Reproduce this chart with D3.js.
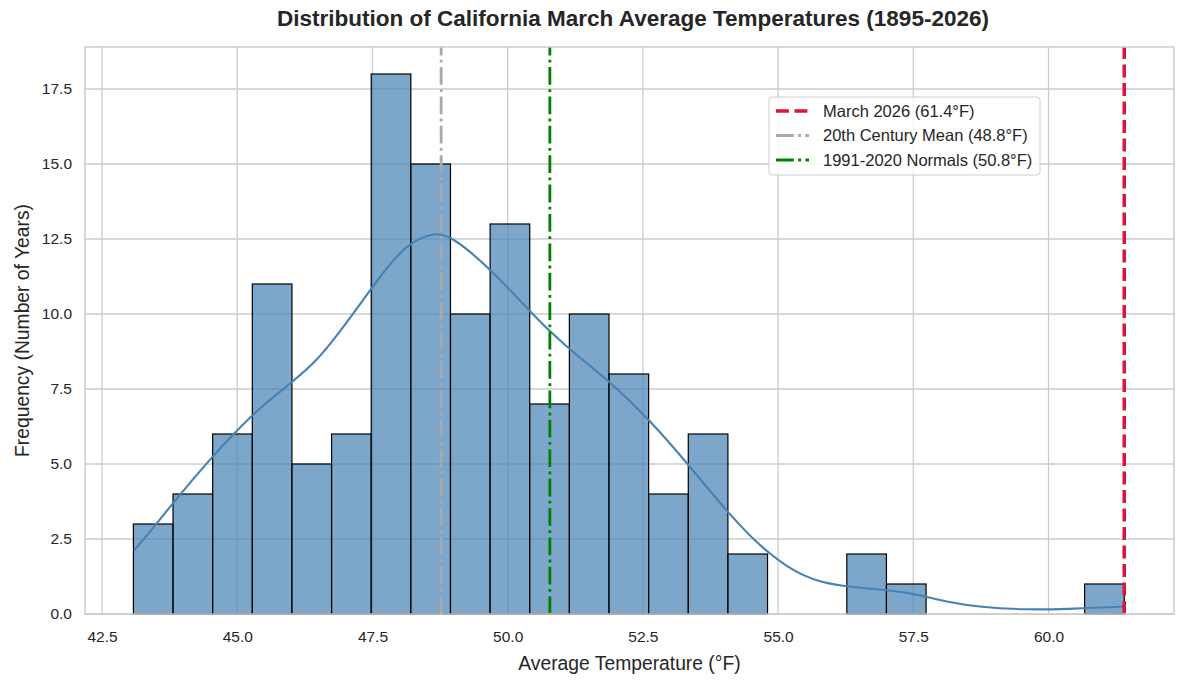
<!DOCTYPE html>
<html>
<head>
<meta charset="utf-8">
<script src="https://cdn.jsdelivr.net/npm/d3@7"></script>
<style>
  body { margin: 0; background: #fff; }
  svg { font-family: "Liberation Sans", Arial, sans-serif; }
</style>
</head>
<body>
<div></div>
<script>
var width = 1184;
var height = 684;

// histogram: 25 equal bins between the coldest and warmest March
var binRange = [43.08, 61.4];
var binCounts = [3, 4, 6, 11, 5, 6, 18, 15, 10, 13, 7, 10, 8, 4, 6, 2, 0, 0, 2, 1, 0, 0, 0, 0, 1];

// kde curve (scaled to counts)
var kdeX = [43.09, 43.50, 43.83, 44.57, 44.92, 45.41, 46.03, 46.46, 46.83, 47.20, 47.49, 47.88,
  48.23, 48.65, 48.96, 49.67, 50.41, 50.78, 51.15, 51.89, 52.62, 53.37, 53.93, 54.30, 54.54,
  54.85, 55.16, 55.47, 55.78, 56.27, 57.01, 57.50, 58.12, 58.73, 59.60, 60.28, 61.40];
var kdeY = [2.12, 2.98, 3.75, 5.31, 5.98, 6.87, 7.75, 8.42, 9.25, 10.15, 10.88, 11.81,
  12.42, 12.72, 12.60, 11.53, 10.09, 9.42, 8.81, 7.75, 6.48, 4.92, 3.68, 2.95, 2.50,
  2.00, 1.59, 1.28, 1.07, 0.91, 0.80, 0.68, 0.40, 0.23, 0.14, 0.16, 0.25];

var refLabels = ["March 2026", "20th Century Mean", "1991-2020 Normals"];
var refValues = [61.4, 48.77, 50.78];

var xTicks = [42.5, 45.0, 47.5, 50.0, 52.5, 55.0, 57.5, 60.0];
var yTicks = [0, 2.5, 5, 7.5, 10, 12.5, 15, 17.5];

var margin = {top: 47, right: 10, bottom: 70, left: 85};

var refStyles = [
  {color: "#dc143c", width: 3.5, dash: "12.9,5.6"},
  {color: "#a9a9a9", width: 2.8, dash: "17.8,4.4,2.8,4.4"},
  {color: "#008000", width: 2.8, dash: "17.8,4.4,2.8,4.4"}
];

var x = d3.scaleLinear()
  .domain([42.185, 62.32])
  .range([margin.left, width - margin.right]);

var y = d3.scaleLinear()
  .domain([0, 18.9])
  .range([height - margin.bottom, margin.top]);

var svg = d3.select("div").append("svg")
  .attr("width", width)
  .attr("height", height);

var binW = (binRange[1] - binRange[0]) / binCounts.length;
var bins = binCounts.map(function(c, i) {
  return {x0: binRange[0] + i * binW, x1: binRange[0] + (i + 1) * binW, count: c};
});

// grid
svg.append("g")
  .selectAll("line")
  .data(xTicks)
  .enter().append("line")
  .attr("x1", function(d) { return x(d); })
  .attr("x2", function(d) { return x(d); })
  .attr("y1", y.range()[0])
  .attr("y2", y.range()[1])
  .attr("stroke", "#cccccc")
  .attr("stroke-width", 1.3);

svg.append("g")
  .selectAll("line")
  .data(yTicks)
  .enter().append("line")
  .attr("x1", x.range()[0])
  .attr("x2", x.range()[1])
  .attr("y1", function(d) { return y(d); })
  .attr("y2", function(d) { return y(d); })
  .attr("stroke", "#cccccc")
  .attr("stroke-width", 1.3);

// bars
svg.append("g")
  .selectAll("rect")
  .data(bins.filter(function(d) { return d.count > 0; }))
  .enter().append("rect")
  .attr("x", function(d) { return x(d.x0); })
  .attr("width", function(d) { return x(d.x1) - x(d.x0); })
  .attr("y", function(d) { return y(d.count); })
  .attr("height", function(d) { return y(0) - y(d.count); })
  .attr("fill", "steelblue")
  .attr("fill-opacity", 0.7)
  .attr("stroke", "#000")
  .attr("stroke-width", 1.2);

// kde
var line = d3.line()
  .x(function(d) { return x(d[0]); })
  .y(function(d) { return y(d[1]); })
  .curve(d3.curveBasis);

svg.append("path")
  .datum(d3.zip(kdeX, kdeY))
  .attr("d", line)
  .attr("fill", "none")
  .attr("stroke", "steelblue")
  .attr("stroke-width", 2.1);

// reference lines
svg.append("g")
  .selectAll("line")
  .data(refValues)
  .enter().append("line")
  .attr("x1", function(d) { return x(d); })
  .attr("x2", function(d) { return x(d); })
  .attr("y1", y.range()[0])
  .attr("y2", y.range()[1])
  .attr("stroke", function(d, i) { return refStyles[i].color; })
  .attr("stroke-width", function(d, i) { return refStyles[i].width; })
  .attr("stroke-dasharray", function(d, i) { return refStyles[i].dash; });

// spines
svg.append("rect")
  .attr("x", x.range()[0])
  .attr("y", y.range()[1])
  .attr("width", x.range()[1] - x.range()[0])
  .attr("height", y.range()[0] - y.range()[1])
  .attr("fill", "none")
  .attr("stroke", "#cccccc")
  .attr("stroke-width", 1.5);

// axes (labels only, whitegrid style)
var xAxis = svg.append("g")
  .attr("transform", "translate(0," + y.range()[0] + ")")
  .call(d3.axisBottom(x).tickValues(xTicks).tickFormat(d3.format(".1f")).tickSize(0).tickPadding(17));
var yAxis = svg.append("g")
  .attr("transform", "translate(" + x.range()[0] + ",0)")
  .call(d3.axisLeft(y).tickValues(yTicks).tickFormat(d3.format(".1f")).tickSize(0).tickPadding(13));
[xAxis, yAxis].forEach(function(a) {
  a.select(".domain").remove();
  a.selectAll("text")
    .attr("fill", "#262626")
    .style("font-size", "15.5px")
    .style("font-family", "'Liberation Sans', Arial, sans-serif");
});

// titles
svg.append("text")
  .attr("x", 633)
  .attr("y", 26)
  .attr("text-anchor", "middle")
  .attr("fill", "#262626")
  .style("font-size", "22.5px")
  .style("font-weight", "bold")
  .text("Distribution of California March Average Temperatures (1895-2026)");

svg.append("text")
  .attr("x", (x.range()[0] + x.range()[1]) / 2)
  .attr("y", 670)
  .attr("text-anchor", "middle")
  .attr("fill", "#262626")
  .style("font-size", "19.3px")
  .text("Average Temperature (°F)");

svg.append("text")
  .attr("transform", "translate(29," + (y.range()[0] + y.range()[1]) / 2 + ") rotate(-90)")
  .attr("text-anchor", "middle")
  .attr("fill", "#262626")
  .style("font-size", "19.3px")
  .text("Frequency (Number of Years)");

// legend
var legend = svg.append("g")
  .attr("transform", "translate(769,97)");

legend.append("rect")
  .attr("width", 271)
  .attr("height", 78)
  .attr("rx", 3)
  .attr("fill", "#fff")
  .attr("fill-opacity", 0.8)
  .attr("stroke", "#cccccc")
  .attr("stroke-width", 1);

var entry = legend.selectAll(".entry")
  .data(refLabels)
  .enter().append("g")
  .attr("class", "entry")
  .attr("transform", function(d, i) { return "translate(0," + (14 + i * 24.5) + ")"; });

entry.append("line")
  .attr("x1", 7)
  .attr("x2", 40)
  .attr("stroke", function(d, i) { return refStyles[i].color; })
  .attr("stroke-width", function(d, i) { return refStyles[i].width; })
  .attr("stroke-dasharray", function(d, i) { return refStyles[i].dash; });

entry.append("text")
  .attr("x", 54)
  .attr("dy", "0.35em")
  .attr("fill", "#262626")
  .style("font-size", "16.5px")
  .text(function(d, i) { return d + " (" + refValues[i].toFixed(1) + "°F)"; });
</script>
</body>
</html>
